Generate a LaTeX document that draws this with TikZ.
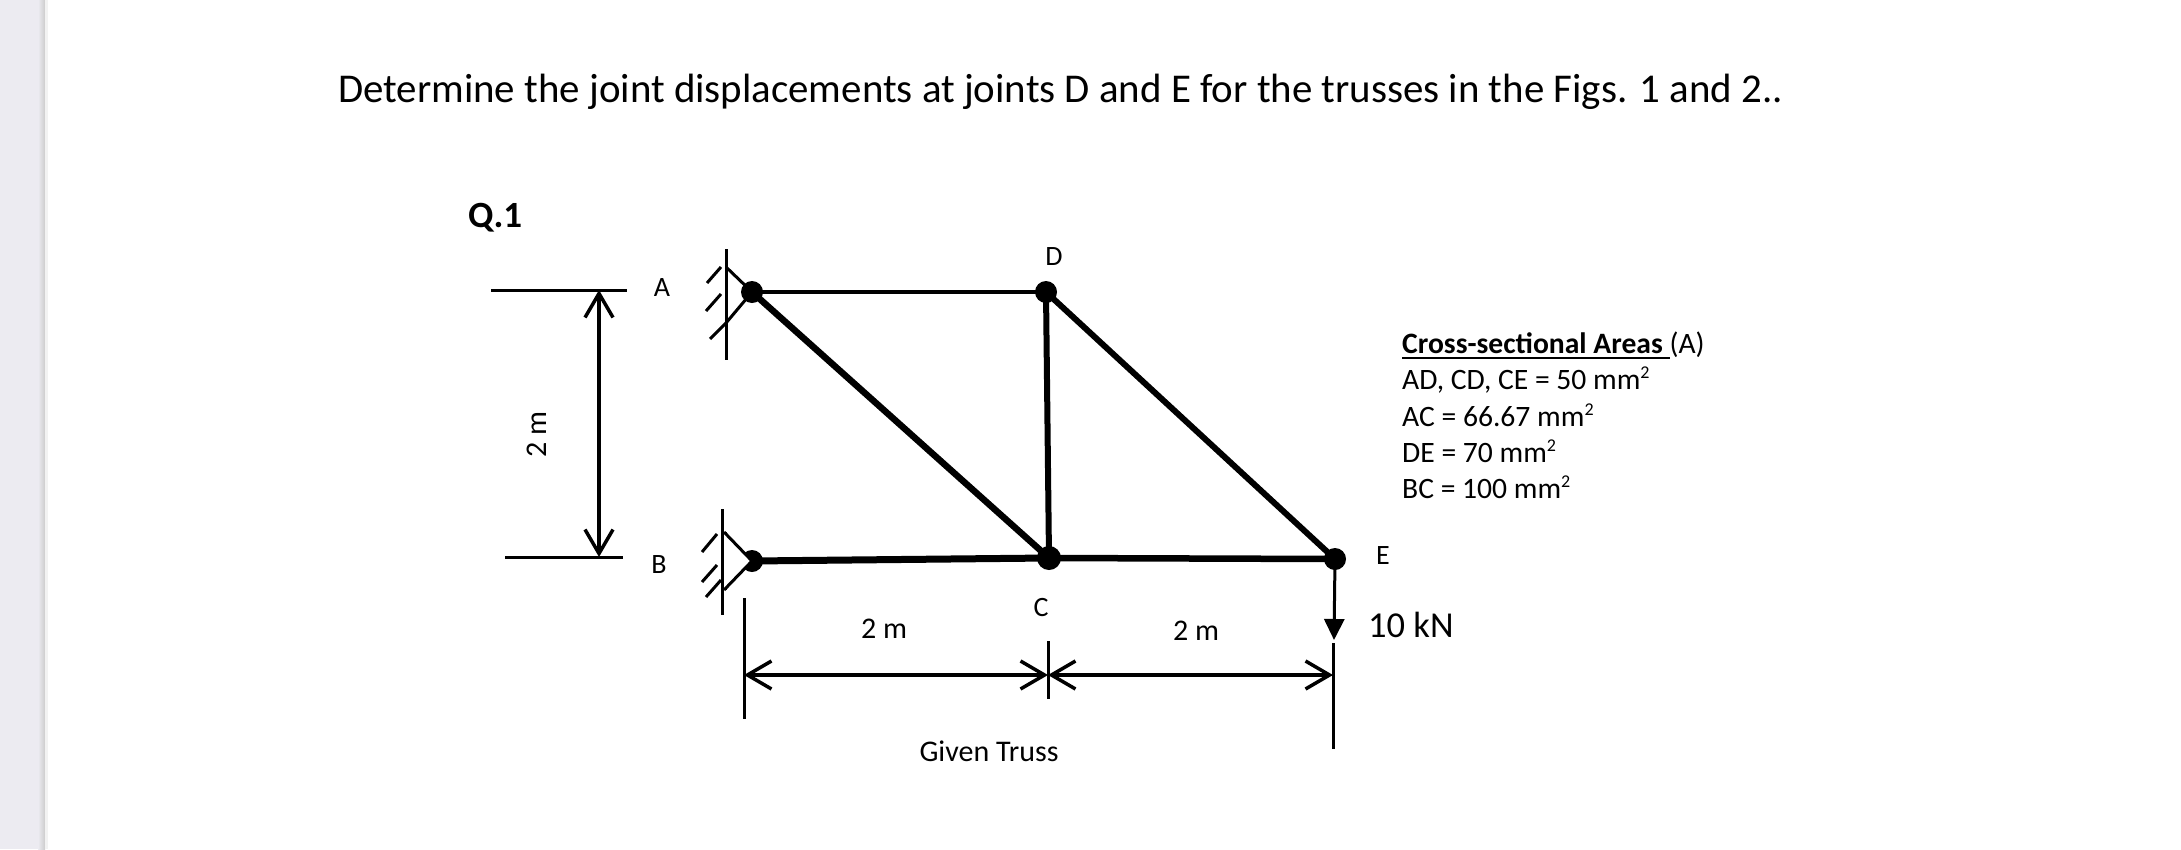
\documentclass[tikz,border=0pt]{standalone}
\usepackage{fontspec}
\setmainfont{Carlito}
\usetikzlibrary{arrows.meta}
\definecolor{sidebar}{HTML}{ECEBF1}
\newcommand{\sqd}{\raisebox{11pt}{\fontsize{18}{18}\selectfont 2}}
\tikzset{
  x=1pt,y=-1pt,
  member/.style={line width=#1,draw=black,line cap=round},
  joint/.style={circle,fill=black,inner sep=0pt,minimum size=22pt},
  thinline/.style={line width=3pt,draw=black},
  barb/.tip={Straight Barb[length=24pt,width=28pt,line width=3.5pt]},
  dimline/.style={line width=3.5pt,draw=black,{barb}-{barb}},
  lbl/.style={inner sep=0pt,font=\fontsize{28}{32}\selectfont},
  dimlbl/.style={inner sep=0pt,font=\fontsize{30}{34}\selectfont},
  arealine/.style={inner sep=0pt,anchor=base west,font=\fontsize{29.6}{34}\selectfont}
}
\begin{document}
\begin{tikzpicture}
\useasboundingbox (0,0) rectangle (2181,849);
\fill[white] (0,0) rectangle (2181,849);
\fill[sidebar] (0,0) rectangle (38,849);
\shade[left color=sidebar,right color=black!20!white] (38,0) rectangle (45,849);
\fill[black!5!white] (45,0) rectangle (48,849);
% title
\node[inner sep=0pt,anchor=base west,font=\fontsize{40.9}{48}\selectfont] (title) at (338,102) {Determine the joint displacements at joints D and E for the trusses in the Figs. 1 and 2..};
\node[inner sep=0pt,anchor=base west,font=\bfseries\fontsize{37}{42}\selectfont] (q) at (468,227) {Q.1};
% joints
\node[joint] (A) at (752,292) {};
\node[joint] (D) at (1046,292) {};
\node[joint,minimum size=24pt] (C) at (1049,558) {};
\node[joint] (B) at (752,561) {};
\node[joint] (E) at (1335,559) {};
% members
\draw[member=4pt] (A.center) -- (D.center);
\draw[member=6.5pt] (A.center) -- (C.center);
\draw[member=6pt] (D.center) -- (C.center);
\draw[member=6pt] (D.center) -- (E.center);
\draw[member=7pt] (B.center) -- (C.center);
\draw[member=6.5pt] (C.center) -- (E.center);
% support A
\coordinate (wa1) at (726,249); \coordinate (wa2) at (726,360);
\coordinate (ta1) at (726,267); \coordinate (ta2) at (726,323);
\draw[thinline] (wa1) -- (wa2);
\draw[thinline] (ta1) -- (A.center) -- (ta2);
\coordinate (ha1) at (721,267); \coordinate (ha2) at (707,283);
\coordinate (ha3) at (721,294); \coordinate (ha4) at (706,311);
\coordinate (ha5) at (710,339);
\draw[thinline] (ha1) -- (ha2);
\draw[thinline] (ha3) -- (ha4);
\draw[thinline] (ta2) -- (ha5);
% support B
\coordinate (wb1) at (722,509); \coordinate (wb2) at (722,615);
\coordinate (tb1) at (724,532); \coordinate (tb2) at (724,590);
\coordinate (apex) at (752,561);
\draw[thinline] (wb1) -- (wb2);
\draw[line width=6pt] (tb1) -- (tb2);
\fill[white] (tb1) -- (apex) -- (tb2) -- cycle;
\draw[thinline] (tb1) -- (apex) -- (tb2);
\coordinate (hb1) at (717,534); \coordinate (hb2) at (702,552);
\coordinate (hb3) at (717,565); \coordinate (hb4) at (702,582);
\coordinate (hb5) at (721,580); \coordinate (hb6) at (706,597);
\draw[thinline] (hb1) -- (hb2);
\draw[thinline] (hb3) -- (hb4);
\draw[thinline] (hb5) -- (hb6);
% left dimension
\coordinate (lt1) at (491,290); \coordinate (lt2) at (627,290);
\coordinate (lb1) at (505,557); \coordinate (lb2) at (623,557);
\coordinate (lv1) at (599,290); \coordinate (lv2) at (599,557);
\draw[thinline] (lt1) -- (lt2);
\draw[thinline] (lb1) -- (lb2);
\draw[dimline] (lv1) -- (lv2);
\node[dimlbl,rotate=90] (twoml) at (537,435) {2 m};
% bottom dimensions
\coordinate (t1a) at (744,598); \coordinate (t1b) at (744,719);
\coordinate (t2a) at (1048,641); \coordinate (t2b) at (1048,699);
\coordinate (t3a) at (1333,643); \coordinate (t3b) at (1333,749);
\draw[thinline] (t1a) -- (t1b);
\draw[thinline] (t2a) -- (t2b);
\draw[thinline] (t3a) -- (t3b);
\coordinate (d1) at (744,675); \coordinate (d2) at (1048,675); \coordinate (d3) at (1333,675);
\draw[dimline] (d1) -- (d2);
\draw[dimline] (d2) -- (d3);
% load
\coordinate (tip) at (1334,640);
\draw[line width=3pt,-{Triangle[length=21pt,width=20pt]}] (E.center) -- (tip);
% labels
\node[lbl] (la) at (662,288) {A};
\node[lbl] (lb) at (659,565) {B};
\node[lbl] (lc) at (1041,608) {C};
\node[lbl] (ld) at (1054,257) {D};
\node[lbl] (le) at (1383,556) {E};
\node[dimlbl] (dim1) at (884,629) {2 m};
\node[dimlbl] (dim2) at (1196,631) {2 m};
\node[inner sep=0pt,anchor=west,font=\fontsize{36.5}{40}\selectfont] (load) at (1368,625) {10 kN};
\node[dimlbl] (given) at (989,751) {Given Truss};
% areas
\node[arealine] (a0) at (1402,353) {\textbf{Cross-sectional Areas }(A)};
\coordinate (u1) at (1402,358); \coordinate (u2) at (1670,358);
\draw[line width=2.5pt] (u1) -- (u2);
\node[arealine] (a1) at (1402,389) {AD, CD, CE = 50 mm\sqd};
\node[arealine] (a2) at (1402,426) {AC = 66.67 mm\sqd};
\node[arealine] (a3) at (1402,462) {DE = 70 mm\sqd};
\node[arealine] (a4) at (1402,498) {BC = 100 mm\sqd};
\end{tikzpicture}
\end{document}
